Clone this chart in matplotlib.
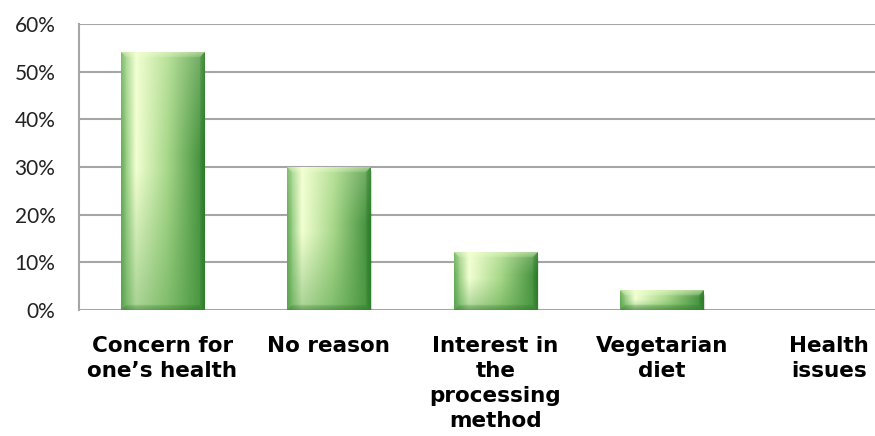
import numpy as np
import matplotlib.pyplot as plt
from matplotlib.colors import to_rgb

# data
categories = ["Concern for\none\u2019s health", "No reason", "Interest in\nthe\nprocessing\nmethod",
              "Vegetarian\ndiet", "Health\nissues"]
values = [54, 30, 12, 4, 0]
yticks = [0, 10, 20, 30, 40, 50, 60]

W, H = 875, 436
fig = plt.figure(figsize=(W / 100, H / 100), dpi=100)
ax_left, ax_right, ax_bot, ax_top = 79, 912, 126, 412
ax = fig.add_axes([ax_left / W, ax_bot / H, (ax_right - ax_left) / W, (ax_top - ax_bot) / H])
ax.set_xlim(-0.5, len(categories) - 0.5)
ax.set_ylim(0, 60)

# pixel scales for bevel sizing
sx = (ax_right - ax_left) / len(categories)
sy = (ax_top - ax_bot) / 60.0

light = np.array(to_rgb("#f2ffd2"))
mid = np.array(to_rgb("#a8d88a"))
dark = np.array(to_rgb("#3a8a36"))
edge = np.array(to_rgb("#6cb45e"))
bevel_dark = np.array(to_rgb("#1f6e1f"))


def lerp(a, b, t):
    return a + (b - a) * t[..., None]


def bar_image(h, bw, nx=120):
    ny = max(int(h * sy), 4) * 2
    u = (np.arange(nx) + 0.5) / nx
    v = (np.arange(ny) + 0.5) / ny  # 0 bottom, 1 top
    U, V = np.meshgrid(u, v)
    # horizontal profile
    col = np.where((U < 0.18)[..., None], lerp(edge, light, np.clip(U / 0.18, 0, 1)),
                   np.where((U < 0.55)[..., None], lerp(light, mid, np.clip((U - 0.18) / 0.37, 0, 1)),
                            lerp(mid, dark, np.clip((U - 0.55) / 0.45, 0, 1))))
    # vertical: lighter top, greener bottom
    top_w = np.clip((V - 0.6) / 0.4, 0, 1) * 0.25
    col = col * (1 - top_w[..., None]) + light * top_w[..., None]
    bot_w = np.clip((0.55 - V) / 0.55, 0, 1) * 0.45
    col = col * (1 - bot_w[..., None]) + np.array(to_rgb("#4f9c46")) * bot_w[..., None]
    # bevel edges (in pixels)
    bev = 5.0
    pxw = bw * sx
    pxh = h * sy
    dl = U * pxw
    dr = (1 - U) * pxw
    db = V * pxh
    dt = (1 - V) * pxh
    dmin = np.minimum(np.minimum(dl, dr), np.minimum(db, dt))
    fade = np.clip(1 - 0.6 * dmin / bev, 0, 1)
    shade = np.zeros_like(U)
    shade = np.where(dt == dmin, 0.45, shade)
    shade = np.where(dl == dmin, -0.12, shade)
    shade = np.where(dr == dmin, -0.55, shade)
    shade = np.where(db == dmin, -0.45, shade)
    shade = np.where(dmin < bev, shade * fade, 0)
    pos = np.clip(shade, 0, 1)[..., None]
    neg = np.clip(-shade, 0, 1)[..., None]
    col = col * (1 - pos) + light * pos
    col = col * (1 - neg) + bevel_dark * neg
    return np.clip(col, 0, 1)


# grid
for t in yticks:
    ax.axhline(t, color="#a6a6a6", lw=1.5, zorder=1)

bw = 0.5
for i, h in enumerate(values):
    if h <= 0:
        continue
    x0, x1 = i - bw / 2, i + bw / 2
    # soft shadow
    for k, a in enumerate([0.10, 0.08, 0.05, 0.03]):
        ox = (1 + k) / sx
        oy = (2 + k) / sy
        ax.add_patch(plt.Rectangle((x0 + ox * 0.5, -oy), bw, h, color="black", alpha=a, lw=0, zorder=2))
    img = bar_image(h, bw)
    ax.imshow(img, extent=(x0, x1, 0, h), origin="lower", aspect="auto", zorder=3, interpolation="bilinear")

ax.set_xlim(-0.5, len(categories) - 0.5)
ax.set_ylim(0, 60)

for s in ["top", "right", "bottom"]:
    ax.spines[s].set_visible(False)
ax.spines["left"].set_color("#a6a6a6")
ax.spines["left"].set_linewidth(1.5)

ax.set_yticks(yticks)
ax.set_yticklabels([f"{t}%" for t in yticks], fontsize=15, family="Lato", color="#222222")
ax.tick_params(axis="y", length=0, pad=17)
ax.set_xticks(range(len(categories)))
ax.set_xticklabels(categories, fontsize=15.5, family="DejaVu Sans", weight="bold", linespacing=1.3)
ax.tick_params(axis="x", length=0, pad=19)

fig.savefig("out.png", dpi=100)
